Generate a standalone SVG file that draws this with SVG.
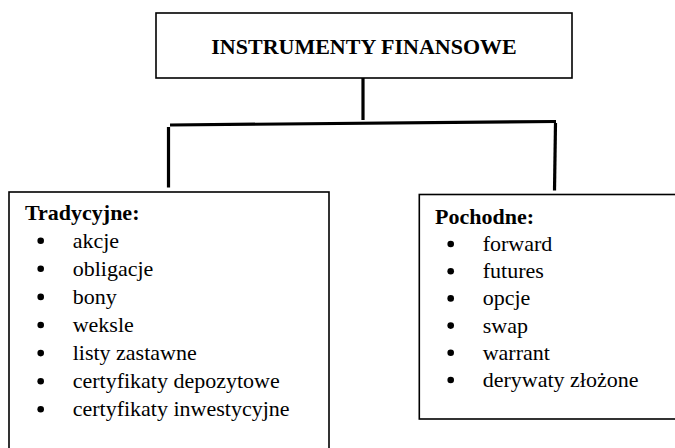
<svg xmlns="http://www.w3.org/2000/svg" width="675" height="448" viewBox="0 0 675 448">
<style>
.box{fill:#fff;stroke:#000;stroke-width:1.6}
.t{font-family:"Liberation Serif","Times New Roman",serif;font-size:22px;fill:#000}
.b{font-weight:bold}
.con{stroke:#000;stroke-width:3.2;fill:none;stroke-linecap:butt}
.dot{fill:#000}
</style>
<rect width="675" height="448" fill="#fff"/>
<g id="connectors">
<line class="con" x1="363" y1="78" x2="363" y2="120"/>
<line class="con" x1="170" y1="125" x2="556" y2="121.5"/>
<line class="con" x1="168.5" y1="127" x2="168.5" y2="187.5"/>
<line class="con" x1="555.5" y1="123" x2="554.5" y2="190.5"/>
</g>
<g id="root">
<rect class="box" x="156" y="13" width="416" height="65"/>
<text class="t b" x="364" y="54" text-anchor="middle">INSTRUMENTY FINANSOWE</text>
</g>
<g id="tradycyjne">
<rect class="box" x="9" y="192" width="320" height="270"/>
<text class="t b" x="25" y="220">Tradycyjne:</text>
<circle class="dot" cx="40.7" cy="240.7" r="3.3"/>
<circle class="dot" cx="40.7" cy="268.8" r="3.3"/>
<circle class="dot" cx="40.7" cy="296.9" r="3.3"/>
<circle class="dot" cx="40.7" cy="325" r="3.3"/>
<circle class="dot" cx="40.7" cy="353.1" r="3.3"/>
<circle class="dot" cx="40.7" cy="381.2" r="3.3"/>
<circle class="dot" cx="40.7" cy="409.3" r="3.3"/>
<text class="t" x="72.7" y="247.5">akcje</text>
<text class="t" x="72.7" y="275.6">obligacje</text>
<text class="t" x="72.7" y="303.7">bony</text>
<text class="t" x="72.7" y="331.8">weksle</text>
<text class="t" x="72.7" y="359.9">listy zastawne</text>
<text class="t" x="72.7" y="388">certyfikaty depozytowe</text>
<text class="t" x="72.7" y="416.1">certyfikaty inwestycyjne</text>
</g>
<g id="pochodne">
<rect class="box" x="419.3" y="194.5" width="270" height="224.5"/>
<text class="t b" x="435" y="223.5">Pochodne:</text>
<circle class="dot" cx="450.7" cy="244" r="3.3"/>
<circle class="dot" cx="450.7" cy="271.2" r="3.3"/>
<circle class="dot" cx="450.7" cy="298.4" r="3.3"/>
<circle class="dot" cx="450.7" cy="325.6" r="3.3"/>
<circle class="dot" cx="450.7" cy="352.8" r="3.3"/>
<circle class="dot" cx="450.7" cy="380" r="3.3"/>
<text class="t" x="482.7" y="251">forward</text>
<text class="t" x="482.7" y="278.2">futures</text>
<text class="t" x="482.7" y="305.4">opcje</text>
<text class="t" x="482.7" y="332.6">swap</text>
<text class="t" x="482.7" y="359.8">warrant</text>
<text class="t" x="482.7" y="387">derywaty złożone</text>
</g>
</svg>
